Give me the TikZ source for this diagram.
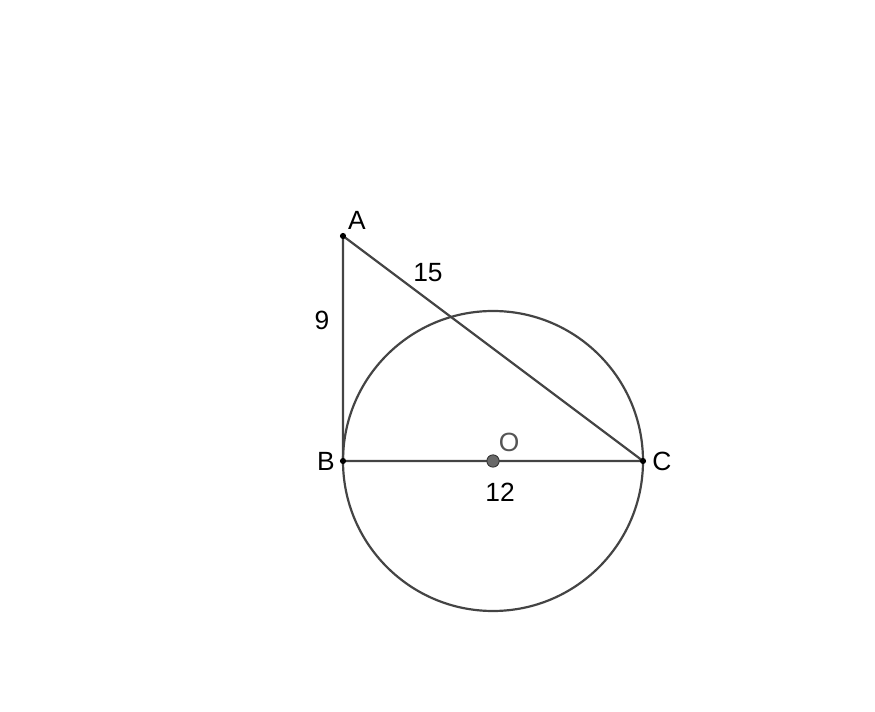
\documentclass[tikz,border=0pt]{standalone}
\usepackage{fontspec}
\setmainfont{Liberation Sans}
\definecolor{linegray}{HTML}{444444}
\definecolor{labelgray}{HTML}{555555}
\tikzset{
  side/.style     = {draw=linegray, line width=1.25pt},
  pointdot/.style = {circle, fill=black, inner sep=0pt, minimum size=3.5pt},
  centerdot/.style= {circle, fill=linegray!80, draw=black!80, line width=0.5pt, inner sep=0pt, minimum size=7pt},
  lbl/.style      = {font=\fontsize{15}{17}\selectfont, inner sep=0pt}
}
\begin{document}
\begin{tikzpicture}
  [
    x = 0.5cm,
    y = 0.5cm
  ]
  \useasboundingbox (-13.72,-10.04) rectangle (21.28,18.44);
  \coordinate (B) at (0,0);
  \coordinate (A) at (0,9);
  \coordinate (C) at (12,0);
  \coordinate (O) at (6,0);
  \draw [side] (O) circle (6);
  \draw [side] (A) -- (B) -- (C) -- cycle;
  \node [pointdot] (Ad) at (A) {};
  \node [pointdot] (Bd) at (B) {};
  \node [pointdot] (Cd) at (C) {};
  \node [centerdot] (Od) at (O) {};
  \node [lbl] (Alab) at (0.56,9.64) {A};
  \node [lbl] (Blab) at (-0.68,0) {B};
  \node [lbl] (Clab) at (12.76,0) {C};
  \node [lbl, text=labelgray] (Olab) at (6.64,0.76) {O};
  \node [lbl] (AC) at (3.4,7.52) {15};
  \node [lbl] (AB) at (-0.84,5.64) {9};
  \node [lbl] (BC) at (6.28,-1.24) {12};
\end{tikzpicture}
\end{document}
